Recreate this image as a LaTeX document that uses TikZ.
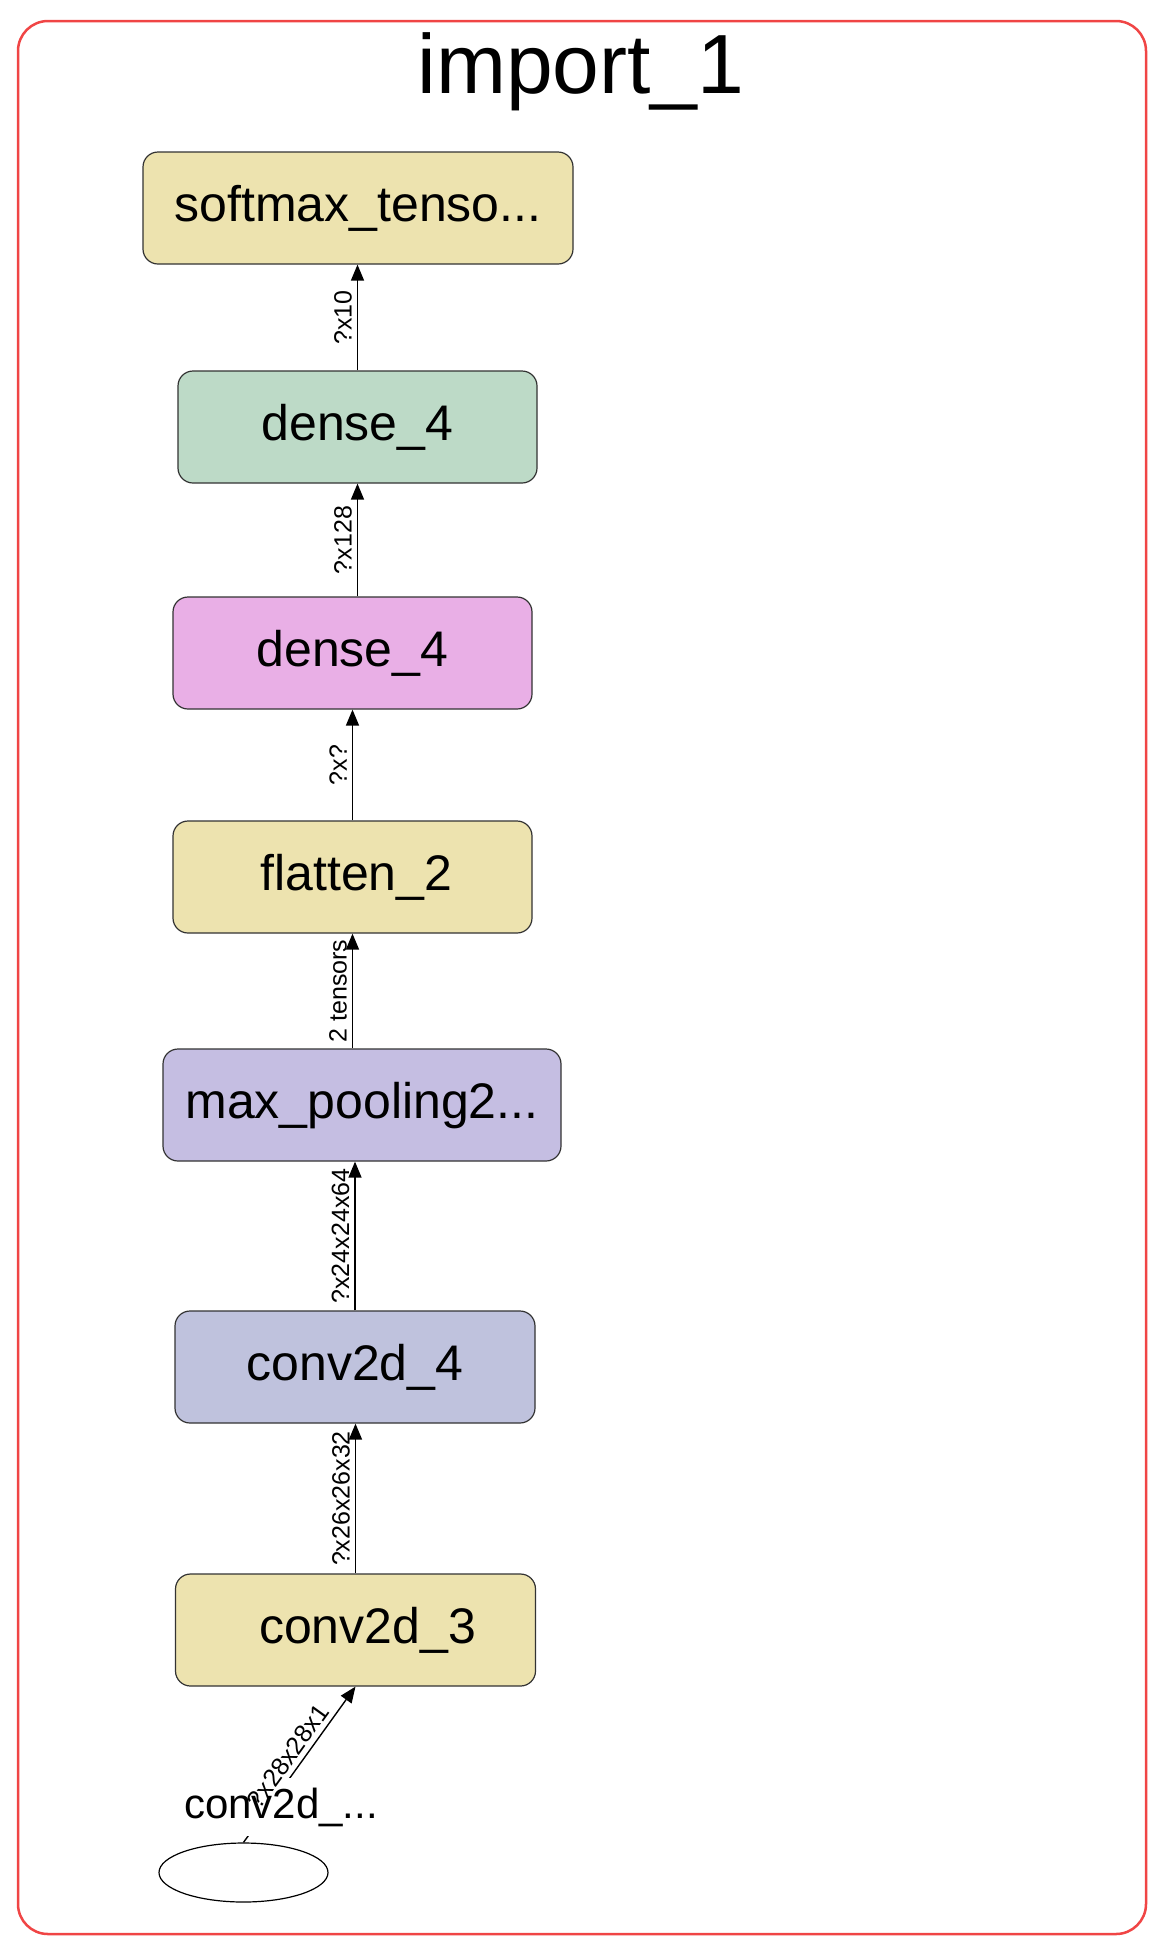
\documentclass[tikz,border=0pt]{standalone}
\usepackage{fontspec}
\setmainfont{Liberation Sans}
\usetikzlibrary{positioning, arrows.meta, shapes.geometric}

\definecolor{khaki}{HTML}{EDE3AF}
\definecolor{sage}{HTML}{BDDAC7}
\definecolor{orchid}{HTML}{E9AFE6}
\definecolor{lavender}{HTML}{C5BEE2}
\definecolor{periwinkle}{HTML}{BFC2DD}
\definecolor{framered}{HTML}{F04545}

\begin{document}
\begin{tikzpicture}[
			x=0.5pt,
			y=-0.5pt,
			layer/.style={
				draw=black!80,
				rounded corners=7.5pt,
				minimum height=56pt,
				inner sep=0pt,
				line width=0.6pt,
				font=\fontsize{25}{30}\selectfont,
				text height=17.5pt,
				text depth=3.75pt
			},
			flow/.style={
				draw=black,
				line width=0.7pt,
				-{Triangle[length=8pt, width=6.5pt]}
			},
			shape label/.style={
				midway,
				sloped,
				above,
				inner sep=2.5pt,
				font=\fontsize{12.5}{15}\selectfont
			}
			]
			\useasboundingbox (0,0) rectangle (1163,1950);
			% Frame and title
			\draw[framered, line width=1.25pt, rounded corners=15pt] (18,21) rectangle (1146,1934);
			\node[anchor=base, font=\fontsize{42}{50}\selectfont] (title) at (581,93) {import\_1};
			% Layers
			\node[layer, fill=khaki, minimum width=215pt] (softmax) at (358,208) {softmax\_tenso...};
			\node[layer, fill=sage, minimum width=179.5pt] (dense) at (357.5,427) {dense\_4};
			\node[layer, fill=orchid, minimum width=179.5pt] (densein) at (352.5,653) {dense\_4};
			\node[layer, fill=khaki, minimum width=179.5pt] (flatten) at (352.5,877) {\hspace{4pt}flatten\_2};
			\node[layer, fill=lavender, minimum width=199pt] (pool) at (362,1105) {max\_pooling2...};
			\node[layer, fill=periwinkle, minimum width=180pt] (convb) at (355,1367) {conv2d\_4};
			\node[layer, fill=khaki, minimum width=180pt] (conva) at (355.5,1630) {\hspace{12pt}conv2d\_3};
			% Input
			\node[draw, ellipse, line width=0.6pt, minimum width=84.5pt, minimum height=29.5pt] (input) at (243.5,1872.5) {};
			% Edges
			\draw[flow] (dense.north) -- node[shape label] {?x10} (dense.north |- softmax.south);
			\draw[flow] (densein.north -| dense) -- node[shape label] {?x128} (dense.south);
			\draw[flow] (flatten.north) -- node[shape label] {?x?} (densein.south);
			\draw[flow] (pool.north -| flatten) -- node[shape label] {2 tensors} (flatten.south);
			\draw[flow] (convb.north) -- node[shape label] {?x24x24x64} (convb.north |- pool.south);
			\draw[flow] (conva.north) -- node[shape label] {?x26x26x32} (conva.north |- convb.south);
			\draw[flow] (input.north) -- (conva.south);
			\node[anchor=base, fill=white, inner xsep=1pt, inner ysep=5pt, font=\fontsize{21}{25}\selectfont] (inputname) at (281,1818) {conv2d\_...};
			\path (input.north) -- node[shape label] {?x28x28x1} (conva.south);
		\end{tikzpicture}
\end{document}
